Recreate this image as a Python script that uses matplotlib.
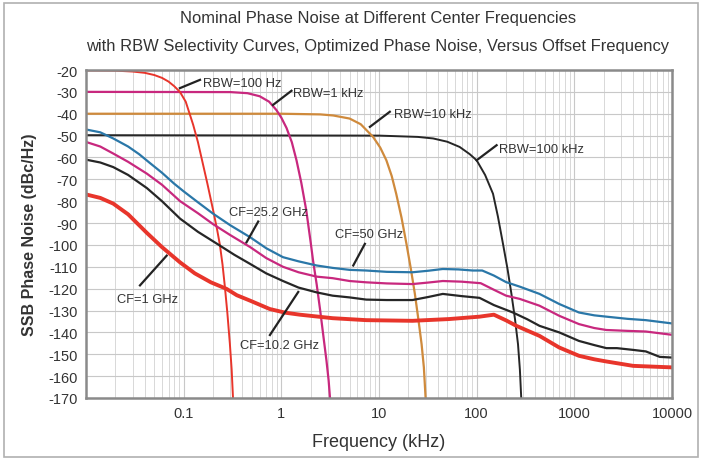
import matplotlib
matplotlib.use("Agg")
import matplotlib.pyplot as plt
from matplotlib.patches import Rectangle
from matplotlib.ticker import FixedLocator, LogLocator, NullFormatter

plt.rcParams["font.family"] = ["Liberation Sans Narrow", "Liberation Sans", "DejaVu Sans"]

# --- phase noise curves (offset kHz, dBc/Hz) ---
cf50_x = [0.01, 0.014, 0.019, 0.027, 0.035, 0.045, 0.06, 0.08, 0.1, 0.14, 0.2, 0.3, 0.48, 0.7,
          1.04, 1.5, 2.3, 3.35, 5, 7.4, 12, 22, 32, 45, 65, 91, 114, 150, 200, 277, 440, 700,
          1115, 1600, 2130, 3500, 5400, 7500, 10000]
cf50_y = [-47.2, -48.5, -51.3, -55, -58.5, -62.5, -67, -72, -75.5, -80.5, -85.7, -91, -96.5,
          -101.5, -105.6, -107.5, -109.4, -110.5, -111.4, -111.7, -112.3, -112.5, -111.8, -111,
          -111.2, -111.7, -111.7, -114, -117, -119.1, -122.4, -127, -130.9, -132.2, -132.8,
          -133.8, -134.4, -135.2, -135.9]

cf25_x = [0.01, 0.014, 0.019, 0.027, 0.042, 0.06, 0.092, 0.14, 0.2, 0.3, 0.48, 0.7, 1.04, 1.5,
          2.3, 3.35, 5, 7.4, 12, 22, 32, 45, 70, 110, 150, 200, 277, 440, 700, 1115, 1600, 2130,
          3500, 5400, 7500, 10000]
cf25_y = [-52.9, -55, -58.2, -62, -67.4, -72.5, -80, -85.5, -90.5, -95.5, -101, -106, -110,
          -112.5, -114.5, -115.2, -116.5, -117.1, -117.6, -117.9, -117.2, -116.5, -116.8, -117.5,
          -120.5, -123.2, -124.7, -127.8, -132.4, -136.2, -138, -138.9, -139.3, -139.6, -140.4,
          -141.1]

cf10_x = [0.01, 0.014, 0.019, 0.027, 0.042, 0.06, 0.092, 0.14, 0.22, 0.33, 0.48, 0.7, 1.04, 1.5,
          2.3, 3.35, 5, 7.4, 12, 22, 32, 45, 70, 107, 150, 235, 330, 440, 700, 1115, 1600, 2130,
          2730, 4000, 5400, 7500, 10000]
cf10_y = [-61, -62.3, -64.4, -68, -74, -80, -88, -94, -99.5, -104.5, -108.7, -113, -116.5,
          -119.5, -121.7, -123.2, -124, -125, -125.2, -125.2, -123.8, -122.4, -123.4, -124.2,
          -127.5, -130.9, -134, -137, -140, -143.9, -145.8, -147.2, -147.2, -148, -148.7, -151.2,
          -151.5]

cf1_x = [0.01, 0.014, 0.019, 0.027, 0.042, 0.06, 0.092, 0.13, 0.19, 0.275, 0.35, 0.48, 0.76,
         1.1, 1.55, 3.35, 7.4, 22, 52, 107, 150, 200, 255, 440, 700, 1115, 1600, 2130, 4000,
         10000]
cf1_y = [-76.9, -78.5, -81.1, -86, -94.5, -101, -108, -113, -117.1, -120.1, -123, -125.5,
         -129.3, -131, -131.9, -133.5, -134.4, -134.7, -133.9, -132.8, -131.9, -134.5, -137,
         -141.6, -146.9, -150.7, -152.3, -153.3, -155.3, -156]

# --- RBW selectivity curves ---
rbw100_x = [0.01, 0.02, 0.03, 0.04, 0.05, 0.06, 0.07, 0.08, 0.0915, 0.105, 0.125, 0.14, 0.152,
            0.175, 0.2, 0.22, 0.235, 0.25, 0.264, 0.28, 0.297, 0.31, 0.32]
rbw100_y = [-20.2, -20.3, -20.7, -21.3, -22.3, -23.6, -25.3, -27.4, -30, -34.5, -45, -53, -60,
            -72, -84, -93, -100, -109, -119, -131, -145, -157, -170]

rbw1k_x = [0.01, 0.3, 0.45, 0.6, 0.75, 0.89, 1.0, 1.13, 1.28, 1.43, 1.6, 1.8, 2.0, 2.11, 2.3,
           2.5, 2.7, 2.9, 3.05, 3.15]
rbw1k_y = [-30, -30.1, -30.6, -32, -34.5, -38.3, -41.8, -46.5, -53, -61.3, -71.5, -84.2, -99,
           -107, -118, -130, -142, -153, -162, -170]

rbw10k_x = [0.01, 1, 2.5, 3.4, 5, 6.5, 8.7, 10.3, 11.9, 13.5, 15, 17, 19.1, 21.2, 23.3, 25.3,
            27.3, 28.8, 30]
rbw10k_y = [-40, -40, -40.3, -40.8, -42.2, -44.8, -50.6, -55.5, -61.3, -68.5, -76.6, -87.5,
            -99.5, -111, -122.4, -134, -145.4, -156, -170]

rbw100k_x = [0.01, 10, 25, 35.8, 50, 67, 85, 100, 122, 147, 165, 186, 207, 227, 247, 265, 277,
             286]
rbw100k_y = [-49.8, -50, -50.6, -51.3, -52.8, -55.2, -58.5, -61.3, -68, -76.6, -87, -99.5,
             -111, -122.4, -134, -145.4, -157, -170]

y_ticks = list(range(-20, -171, -10))
x_ticks = [0.1, 1, 10, 100, 1000, 10000]
x_ticklabels = ["0.1", "1", "10", "100", "1000", "10000"]

RED = "#e8352b"
MAGENTA = "#c8287e"
BLUE = "#2a77a8"
BLACK = "#262626"
ORANGE = "#cf8a3c"

fig = plt.figure(figsize=(7.02, 4.64), dpi=100)
fig.patches.append(Rectangle((4 / 702, 6 / 464), 694 / 702, 454 / 464, transform=fig.transFigure,
                             fill=False, edgecolor="#b0b0b0", linewidth=1.2))
ax = fig.add_axes([86 / 702, 1 - 399 / 464, 586 / 702, 328 / 464])

ax.set_xscale("log")
ax.set_xlim(0.01, 10000)
ax.set_ylim(-170, -20)

ax.yaxis.set_major_locator(FixedLocator(y_ticks))
ax.xaxis.set_major_locator(FixedLocator(x_ticks))
ax.xaxis.set_minor_locator(LogLocator(base=10, subs=range(2, 10), numticks=20))
ax.xaxis.set_minor_formatter(NullFormatter())
ax.set_xticklabels(x_ticklabels)
ax.set_yticklabels([str(v) for v in y_ticks])
ax.grid(True, which="major", color="#c8c8c8", linewidth=0.8)
ax.grid(True, which="minor", axis="x", color="#d8d8d8", linewidth=0.7)
ax.tick_params(which="both", length=0, labelsize=10.5, labelcolor="#333333", pad=6)
for s in ax.spines.values():
    s.set_color("#8a8a8a")
    s.set_linewidth(1.8)

# RBW curves
ax.plot(rbw100k_x, rbw100k_y, color=BLACK, lw=1.4)
ax.plot(rbw10k_x, rbw10k_y, color=ORANGE, lw=1.6)
ax.plot(rbw1k_x, rbw1k_y, color=MAGENTA, lw=1.6)
ax.plot(rbw100_x, rbw100_y, color=RED, lw=1.4)

# phase noise curves
ax.plot(cf50_x, cf50_y, color=BLUE, lw=1.6)
ax.plot(cf25_x, cf25_y, color=MAGENTA, lw=1.6)
ax.plot(cf10_x, cf10_y, color=BLACK, lw=1.6)
ax.plot(cf1_x, cf1_y, color=RED, lw=2.8)

# labels with leader lines: (text, text xy, line start, line end)
notes = [
    ("RBW=100 Hz", (0.157, -26), (0.0915, -28.3), (0.147, -24.5)),
    ("RBW=1 kHz", (1.32, -30.5), (0.82, -36), (1.27, -29.5)),
    ("RBW=10 kHz", (14.1, -40.2), (8.07, -46), (12.9, -39.1)),
    ("RBW=100 kHz", (170, -56), (99.8, -61.3), (160, -54.4)),
    ("CF=25.2 GHz", (0.29, -85), (0.44, -98.8), (0.58, -89.3)),
    ("CF=50 GHz", (3.54, -95), (5.45, -109.4), (7.17, -99.5)),
    ("CF=1 GHz", (0.0208, -124.5), (0.0357, -118.5), (0.067, -104.9)),
    ("CF=10.2 GHz", (0.377, -145.9), (0.764, -141.2), (1.49, -121.5)),
]
for txt, pos, p0, p1 in notes:
    ax.plot([p0[0], p1[0]], [p0[1], p1[1]], color="#222222", lw=1.6)
    ax.text(pos[0], pos[1], txt, fontsize=9.3, color="#333333", ha="left", va="center")

ax.set_xlabel("Frequency (kHz)", fontsize=13, color="#333333", labelpad=9)
ax.set_ylabel("SSB Phase Noise (dBc/Hz)", fontsize=11.5, fontweight="bold", color="#333333",
              labelpad=8)
fig.text(0.538, 1 - 19 / 464, "Nominal Phase Noise at Different Center Frequencies",
         ha="center", va="center", fontsize=11.9, color="#333333")
fig.text(0.538, 1 - 46 / 464,
         "with RBW Selectivity Curves, Optimized Phase Noise, Versus Offset Frequency",
         ha="center", va="center", fontsize=11.9, color="#333333")

fig.savefig("out.png", dpi=100)
